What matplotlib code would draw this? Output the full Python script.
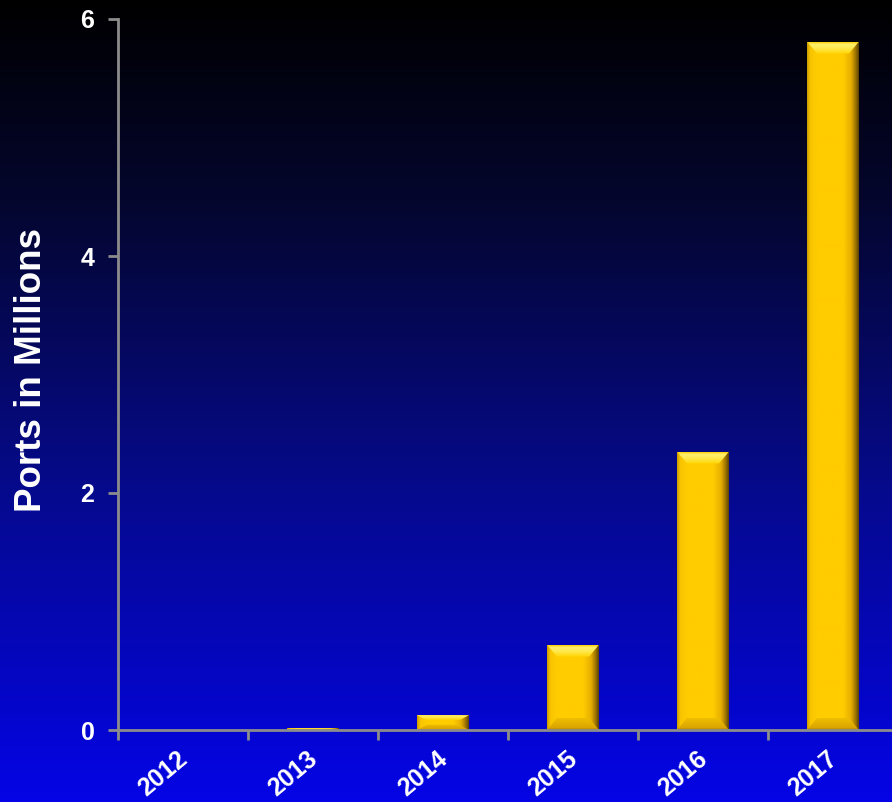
import numpy as np
import matplotlib
matplotlib.use("Agg")
import matplotlib.pyplot as plt
import matplotlib.transforms as mtransforms
from matplotlib.patches import Polygon
from matplotlib.colors import LinearSegmentedColormap

years = ["2012", "2013", "2014", "2015", "2016", "2017"]
ports_millions = [0.0, 0.015, 0.125, 0.72, 2.35, 5.81]
y_ticks = [0, 2, 4, 6]

plt.rcParams['font.family'] = ['Liberation Sans', 'DejaVu Sans']

W, H = 892, 802
fig = plt.figure(figsize=(W / 100, H / 100), dpi=100)

# background gradient
bg = fig.add_axes([0, 0, 1, 1], zorder=0)
grad = np.linspace(0, 1, 256).reshape(-1, 1)
cmap = LinearSegmentedColormap.from_list(
    "bg", [(0, "#000000"), (0.25, "#04062e"), (0.6, "#060a8a"), (1.0, "#0404e6")])
bg.imshow(grad, aspect="auto", cmap=cmap, extent=[0, 1, 1, 0])
bg.set_axis_off()

left = 118 / W
bottom = (H - 730) / H
top_px = 19
ax = fig.add_axes([left, bottom, (898 - 118) / W, (730 - top_px) / H], zorder=1)
ax.patch.set_alpha(0)

n = len(years)
x = np.arange(n)
width = 0.4
bars = ax.bar(x, ports_millions, width=width, color="#FFCC00", zorder=2, lw=0)

xlim = (-0.5, n - 0.5)
ylim = (0, 6)

body_cmap = LinearSegmentedColormap.from_list(
    "body", [(0, "#C89A00"), (0.06, "#F8C400"), (0.2, "#FFCC00"), (0.7, "#FFCC00"),
             (0.85, "#E6AE00"), (0.94, "#9A7200"), (1.0, "#5A4200")])
top_cmap = LinearSegmentedColormap.from_list(
    "top", [(0, "#FFD400"), (0.45, "#FFE84A"), (0.8, "#FFF070"), (1.0, "#FFD000")])
bot_cmap = LinearSegmentedColormap.from_list(
    "bot", [(0, "#8A6800"), (0.15, "#D9A400"), (1.0, "#F0BE00")])

hgrad = np.linspace(0, 1, 256).reshape(1, -1)
vgrad = np.linspace(0, 1, 256).reshape(-1, 1)

for b in bars:
    x0, w, h = b.get_x(), b.get_width(), b.get_height()
    if h <= 0:
        continue
    x1 = x0 + w
    bx = 10 / 130
    by = min(12 / 118.5, h * 0.35)
    im = ax.imshow(hgrad, cmap=body_cmap, aspect="auto", extent=[x0, x1, 0, h],
                   zorder=2.5, interpolation="bilinear")
    im.set_clip_path(b)
    tp = Polygon([[x0, h], [x1, h], [x1 - bx, h - by], [x0 + bx, h - by]],
                 closed=True, facecolor="none", lw=0)
    ax.add_patch(tp)
    im = ax.imshow(vgrad, cmap=top_cmap, aspect="auto", extent=[x0, x1, h - by, h],
                   origin="lower", zorder=3, interpolation="bilinear")
    im.set_clip_path(tp)
    bp = Polygon([[x0, 0], [x1, 0], [x1 - bx, by], [x0 + bx, by]],
                 closed=True, facecolor="none", lw=0)
    ax.add_patch(bp)
    im = ax.imshow(vgrad, cmap=bot_cmap, aspect="auto", extent=[x0, x1, 0, by],
                   origin="lower", zorder=3, interpolation="bilinear")
    im.set_clip_path(bp)

ax.set_xlim(*xlim)
ax.set_ylim(*ylim)

for s in ["top", "right"]:
    ax.spines[s].set_visible(False)
for s in ["left", "bottom"]:
    ax.spines[s].set_color("#8C8C8C")
    ax.spines[s].set_linewidth(2)
    ax.spines[s].set_zorder(4)

ax.set_yticks(y_ticks)
ax.set_yticklabels([str(v) for v in y_ticks], color="white", fontsize=18, fontweight="bold")
ax.tick_params(axis="y", direction="out", length=7, width=2, color="#8C8C8C", pad=10)

ax.set_xticks(x)
ax.set_xticklabels(years, color="white", fontsize=18, fontweight="bold", rotation=40,
                   ha="right", rotation_mode="anchor")
ax.tick_params(axis="x", which="major", length=0, pad=13)
ax.set_xticks(np.arange(n) - 0.5, minor=True)
ax.tick_params(axis="x", which="minor", direction="out", length=7, width=2, color="#8C8C8C")
offset = mtransforms.ScaledTranslation(-6 / 100, 1 / 100, fig.dpi_scale_trans)
for lbl in ax.get_xticklabels():
    lbl.set_transform(lbl.get_transform() + offset)

ax.set_ylabel("Ports in Millions", color="white", fontsize=26.5, fontweight="bold")
ax.yaxis.set_label_coords(-0.089, 0.506)

fig.savefig("out.png", dpi=100)
